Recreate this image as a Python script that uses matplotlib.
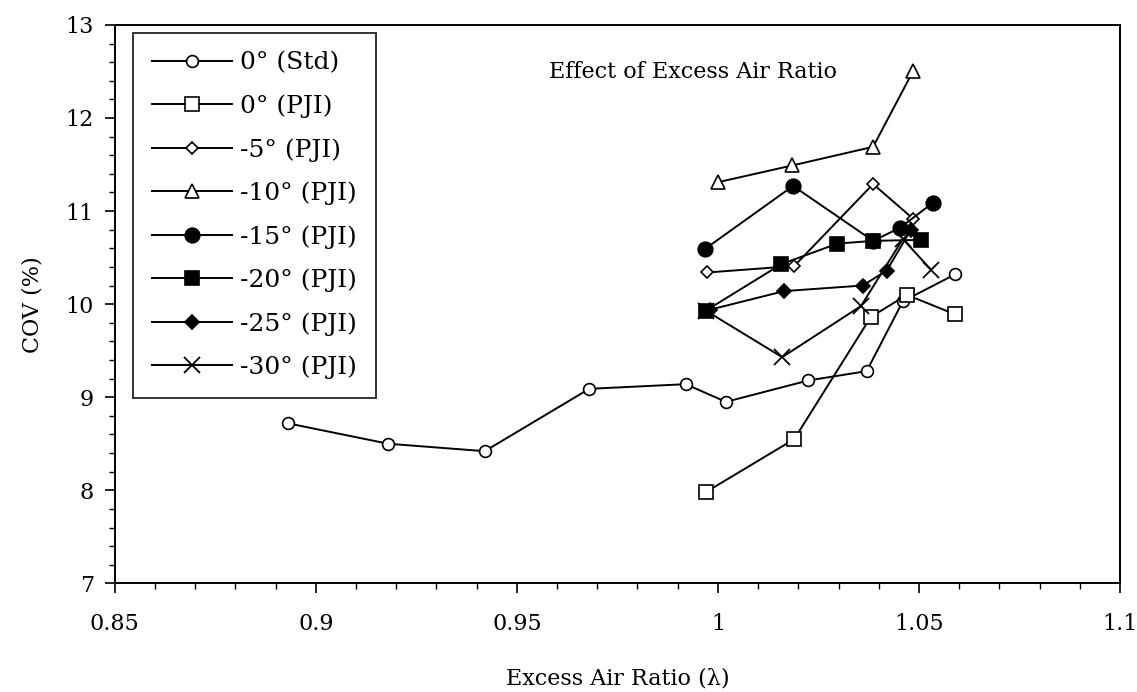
import matplotlib
matplotlib.use("Agg")
import matplotlib.pyplot as plt
from matplotlib.ticker import MultipleLocator

plt.rcParams['font.family'] = ['DejaVu Serif']

labels = ["0° (Std)", "0° (PJI)", "-5° (PJI)", "-10° (PJI)",
          "-15° (PJI)", "-20° (PJI)", "-25° (PJI)", "-30° (PJI)"]

std_x = [0.893, 0.918, 0.942, 0.968, 0.992, 1.002, 1.0225, 1.037, 1.046, 1.059]
std_y = [8.72, 8.50, 8.42, 9.09, 9.14, 8.95, 9.18, 9.28, 10.03, 10.32]

pji0_x = [0.997, 1.019, 1.038, 1.047, 1.059]
pji0_y = [7.98, 8.55, 9.86, 10.10, 9.89]

m5_x = [0.9974, 1.019, 1.0386, 1.0485]
m5_y = [10.34, 10.41, 11.29, 10.92]

m10_x = [1.000, 1.0185, 1.0386, 1.0485]
m10_y = [11.31, 11.49, 11.69, 12.50]

m15_x = [0.9967, 1.0187, 1.0386, 1.0453, 1.0535]
m15_y = [10.59, 11.27, 10.68, 10.82, 11.09]

m20_x = [0.997, 1.0158, 1.0297, 1.0386, 1.0505]
m20_y = [9.93, 10.43, 10.65, 10.68, 10.69]

m25_x = [0.998, 1.0165, 1.036, 1.042, 1.048]
m25_y = [9.94, 10.14, 10.20, 10.36, 10.80]

m30_x = [0.997, 1.016, 1.0356, 1.046, 1.053]
m30_y = [9.93, 9.43, 9.98, 10.70, 10.37]

series = [(std_x, std_y), (pji0_x, pji0_y), (m5_x, m5_y), (m10_x, m10_y),
          (m15_x, m15_y), (m20_x, m20_y), (m25_x, m25_y), (m30_x, m30_y)]
styles = [
    dict(marker='o', mfc='white', ms=8.5),
    dict(marker='s', mfc='white', ms=9.5),
    dict(marker='D', mfc='white', ms=6.5),
    dict(marker='^', mfc='white', ms=10),
    dict(marker='o', mfc='black', ms=10.5),
    dict(marker='s', mfc='black', ms=10),
    dict(marker='D', mfc='black', ms=7.5),
    dict(marker='x', mfc='black', ms=11, mew=1.3),
]

fig = plt.figure(figsize=(11.37, 6.92), dpi=100)
ax = fig.add_axes([0.101, 0.157, 0.884, 0.807])

for (xs, ys), lab, st in zip(series, labels, styles):
    st = dict(st)
    kw = dict(color='black', lw=1.4, mec='black', mew=st.pop('mew', 1.2))
    kw.update(st)
    ax.plot(xs, ys, label=lab, **kw)

ax.set_xlim(0.85, 1.1)
ax.set_ylim(7, 13)
ax.xaxis.set_minor_locator(MultipleLocator(0.01))
ax.yaxis.set_major_locator(MultipleLocator(1))
ax.yaxis.set_minor_locator(MultipleLocator(0.2))
ax.set_xticks([0.85, 0.9, 0.95, 1.0, 1.05, 1.1])
ax.set_xticklabels(["0.85", "0.9", "0.95", "1", "1.05", "1.1"])
ax.tick_params(which='major', length=7, width=1.2, labelsize=16, direction='out', pad=8)
ax.tick_params(axis='x', which='major', pad=14)
ax.tick_params(which='minor', length=4, width=1.0, direction='out')
for s in ax.spines.values():
    s.set_linewidth(1.4)

ax.set_xlabel("Excess Air Ratio (λ)", fontsize=16, labelpad=24)
ax.set_ylabel("COV (%)", fontsize=16, labelpad=16)
ax.text(0.575, 0.915, "Effect of Excess Air Ratio", transform=ax.transAxes,
        ha='center', va='center', fontsize=16)

leg = ax.legend(loc='upper left', bbox_to_anchor=(0.018, 0.986), fontsize=18,
                frameon=True, fancybox=False, edgecolor='black',
                handlelength=3.2, handletextpad=0.35, labelspacing=0.8,
                borderpad=0.75, borderaxespad=0.0)
leg.get_frame().set_linewidth(1.4)

fig.savefig("out.png", dpi=100)
